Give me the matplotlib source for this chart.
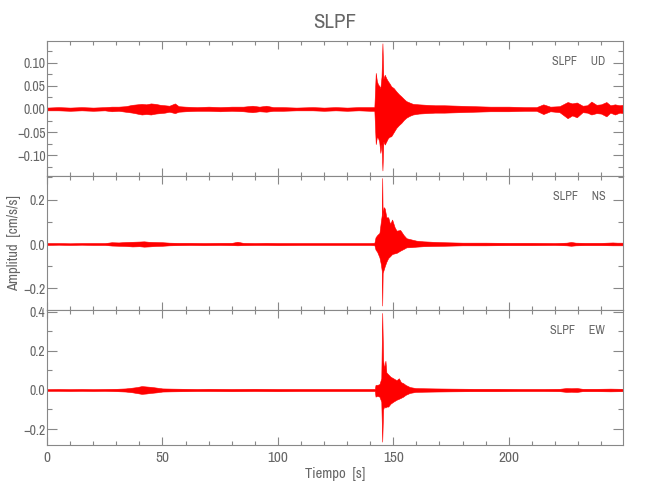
import matplotlib
matplotlib.use("Agg")
import matplotlib.pyplot as plt
from matplotlib import font_manager
from matplotlib.ticker import MultipleLocator

# envelope of each trace: time [s], upper and lower amplitude [cm/s/s]
t_ud = [0, 5, 10, 15, 20, 25, 28, 31, 34, 37, 39, 41, 43, 45, 47, 49, 51, 53, 55.4, 57, 60, 65, 70, 75,
        80, 85, 89, 92, 95, 98, 102, 108, 115, 120, 125, 130, 135, 140, 141.8, 142.4, 142.9, 143.4,
        143.9, 144.4, 144.9, 145.3, 145.7, 146.3, 147.0, 147.7, 148.4, 149.1, 150.2, 151.3, 152.4,
        153.5, 154.5, 155.6, 157, 158.5, 161, 164.3, 168, 172, 178.7, 185, 192, 200, 207, 212, 215,
        218, 222, 225.5, 227.5, 229.5, 232, 234, 235.8, 238, 240, 242.3, 244, 246, 248, 249.5]
hi_ud = [0.003, 0.004, 0.003, 0.004, 0.003, 0.004, 0.005, 0.005, 0.006, 0.009, 0.010, 0.011, 0.010,
         0.012, 0.011, 0.009, 0.008, 0.007, 0.012, 0.006, 0.005, 0.004, 0.005, 0.004, 0.005, 0.005,
         0.007, 0.005, 0.007, 0.004, 0.004, 0.003, 0.004, 0.003, 0.004, 0.003, 0.004, 0.004, 0.004,
         0.078, 0.060, 0.053, 0.050, 0.045, 0.070, 0.142, 0.065, 0.074, 0.066, 0.060, 0.055, 0.049,
         0.045, 0.038, 0.032, 0.027, 0.022, 0.017, 0.014, 0.011, 0.010, 0.009, 0.008, 0.008, 0.007,
         0.006, 0.005, 0.005, 0.004, 0.004, 0.010, 0.005, 0.006, 0.015, 0.012, 0.014, 0.007, 0.008,
         0.016, 0.009, 0.010, 0.015, 0.008, 0.010, 0.008, 0.009]
lo_ud = [-0.003, -0.003, -0.004, -0.003, -0.004, -0.003, -0.005, -0.004, -0.006, -0.008, -0.010,
         -0.012, -0.011, -0.012, -0.010, -0.009, -0.008, -0.006, -0.009, -0.006, -0.005, -0.004,
         -0.004, -0.005, -0.004, -0.005, -0.007, -0.005, -0.006, -0.004, -0.004, -0.003, -0.003,
         -0.004, -0.003, -0.004, -0.003, -0.004, -0.004, -0.076, -0.060, -0.063, -0.070, -0.095,
         -0.075, -0.133, -0.070, -0.077, -0.070, -0.063, -0.060, -0.059, -0.050, -0.041, -0.035,
         -0.030, -0.024, -0.019, -0.015, -0.012, -0.010, -0.009, -0.008, -0.008, -0.007, -0.006,
         -0.005, -0.005, -0.004, -0.004, -0.011, -0.005, -0.007, -0.020, -0.014, -0.018, -0.007,
         -0.008, -0.012, -0.009, -0.010, -0.016, -0.008, -0.012, -0.008, -0.009]

t_ns = [0, 5, 10, 15, 20, 25, 28, 31, 34, 37, 40, 42, 44, 47, 50, 53, 57, 62, 68, 75, 80, 82.5, 85,
        90, 95, 100, 110, 120, 130, 135, 140, 141.8, 142.3, 143.0, 144.0, 144.6, 145.0, 145.2, 145.4,
        145.8, 146.3, 147.0, 147.8, 148.6, 149.5, 150.6, 151.4, 153.0, 154.5, 155.7, 158, 160, 163,
        167, 172, 180, 190, 200, 210, 220, 225, 227, 229, 233, 240, 245, 247, 249.5]
hi_ns = [0.004, 0.004, 0.003, 0.004, 0.004, 0.004, 0.008, 0.007, 0.009, 0.010, 0.011, 0.012, 0.010,
         0.009, 0.008, 0.006, 0.005, 0.005, 0.004, 0.005, 0.005, 0.010, 0.005, 0.004, 0.005, 0.004,
         0.004, 0.004, 0.004, 0.004, 0.004, 0.005, 0.030, 0.040, 0.050, 0.100, 0.130, 0.297, 0.120,
         0.166, 0.160, 0.120, 0.120, 0.090, 0.110, 0.075, 0.060, 0.063, 0.040, 0.026, 0.020, 0.015,
         0.012, 0.010, 0.008, 0.006, 0.006, 0.005, 0.005, 0.004, 0.006, 0.009, 0.006, 0.005, 0.005,
         0.007, 0.006, 0.006]
lo_ns = [-0.004, -0.003, -0.004, -0.003, -0.004, -0.004, -0.007, -0.008, -0.009, -0.011, -0.010,
         -0.012, -0.011, -0.009, -0.008, -0.006, -0.005, -0.004, -0.005, -0.004, -0.005, -0.006,
         -0.005, -0.004, -0.004, -0.005, -0.004, -0.004, -0.004, -0.004, -0.004, -0.005, -0.025,
         -0.035, -0.060, -0.090, -0.120, -0.277, -0.130, -0.117, -0.100, -0.080, -0.063, -0.055,
         -0.045, -0.042, -0.040, -0.030, -0.022, -0.015, -0.014, -0.012, -0.010, -0.009, -0.008,
         -0.006, -0.006, -0.005, -0.005, -0.004, -0.006, -0.008, -0.006, -0.005, -0.005, -0.006,
         -0.006, -0.006]

t_ew = [0, 5, 10, 15, 20, 25, 30, 34, 37, 39, 41, 43, 45, 47.6, 50, 54, 60, 65, 70, 80, 90, 100,
        110, 120, 130, 140, 142.0, 142.3, 143.0, 144.0, 144.8, 145.2, 145.6, 146.0, 146.6, 147.0,
        147.8, 148.8, 150.0, 151.4, 152.4, 153.3, 154.3, 155.3, 157.2, 159.6, 163, 168, 175, 185,
        195, 205, 215, 222, 225, 227, 229.5, 232, 238, 244, 249.5]
hi_ew = [0.004, 0.005, 0.004, 0.005, 0.004, 0.005, 0.006, 0.008, 0.012, 0.015, 0.020, 0.018, 0.016,
         0.012, 0.008, 0.007, 0.006, 0.005, 0.006, 0.005, 0.006, 0.005, 0.005, 0.005, 0.005, 0.005,
         0.005, 0.026, 0.026, 0.030, 0.060, 0.395, 0.154, 0.110, 0.150, 0.090, 0.080, 0.068, 0.060,
         0.050, 0.060, 0.040, 0.035, 0.026, 0.015, 0.010, 0.009, 0.008, 0.007, 0.006, 0.006, 0.005,
         0.005, 0.006, 0.010, 0.009, 0.010, 0.006, 0.006, 0.007, 0.006]
lo_ew = [-0.004, -0.004, -0.005, -0.004, -0.005, -0.004, -0.006, -0.008, -0.012, -0.016, -0.020,
         -0.018, -0.015, -0.012, -0.008, -0.007, -0.006, -0.005, -0.005, -0.006, -0.005, -0.006,
         -0.005, -0.005, -0.005, -0.005, -0.005, -0.034, -0.030, -0.034, -0.060, -0.265, -0.100,
         -0.085, -0.090, -0.085, -0.085, -0.070, -0.060, -0.050, -0.045, -0.040, -0.034, -0.025,
         -0.015, -0.010, -0.009, -0.008, -0.007, -0.006, -0.006, -0.005, -0.005, -0.006, -0.010,
         -0.009, -0.010, -0.006, -0.006, -0.007, -0.006]

station = "SLPF"
components = ["UD", "NS", "EW"]
ylims = [(-0.145, 0.147), (-0.297, 0.306), (-0.282, 0.41)]
ymajor = [0.05, 0.2, 0.2]
yminor = [0.025, 0.1, 0.1]
traces = [(t_ud, hi_ud, lo_ud), (t_ns, hi_ns, lo_ns), (t_ew, hi_ew, lo_ew)]

# the original uses a thin narrow vector font; take the narrowest installed one
fonts = font_manager.fontManager.ttflist
narrow = [f for f in fonts if "Narrow" in f.name or "Condensed" in f.name]
dv_cond = [f for f in fonts if f.name == "DejaVu Sans" and "condensed" in str(f.stretch)]
if narrow:
    plt.rcParams["font.family"] = [narrow[0].name, "DejaVu Sans"]
elif dv_cond:
    plt.rcParams["font.family"] = ["DejaVu Sans"]
    plt.rcParams["font.stretch"] = dv_cond[0].stretch
else:
    plt.rcParams["font.family"] = ["Liberation Sans", "DejaVu Sans"]

grey = "#666666"
W, H = 650, 500
fig = plt.figure(figsize=(6.5, 5.0), dpi=100)

# panel edges in pixels (top, bottom)
edges = [(41, 176), (176, 310), (310, 445)]
left, right = 47, 623
axes = []
for i, (top, bot) in enumerate(edges):
    ax = fig.add_axes([left / W, (H - bot) / H, (right - left) / W, (bot - top) / H])
    t, hi, lo = traces[i]
    ax.fill_between(t, lo, hi, color="red", lw=0.4, edgecolor="red")
    ax.plot([0, 249.5], [0, 0], color="red", lw=1.0)
    ax.set_xlim(0, 249.5)
    ax.set_ylim(*ylims[i])
    ax.xaxis.set_major_locator(MultipleLocator(50))
    ax.xaxis.set_minor_locator(MultipleLocator(10))
    ax.yaxis.set_major_locator(MultipleLocator(ymajor[i]))
    ax.yaxis.set_minor_locator(MultipleLocator(yminor[i]))
    ax.tick_params(which="both", direction="in", top=True, right=True, colors="#888888",
                   labelcolor=grey, width=0.8)
    ax.tick_params(axis="y", which="major", length=7, pad=1, labelsize=10)
    ax.tick_params(axis="y", which="minor", length=3.5)
    ax.tick_params(axis="x", which="major", length=6, pad=4, labelsize=11)
    ax.tick_params(axis="x", which="minor", length=3)
    for s in ax.spines.values():
        s.set_color("#888888")
        s.set_linewidth(0.8)
    if i < 2:
        ax.tick_params(axis="x", labelbottom=False)
    ax.text(0.969, 0.85, station + "     " + components[i], transform=ax.transAxes,
            ha="right", va="center", fontsize=8.8, color=grey)
    axes.append(ax)

axes[-1].set_xlabel("Tiempo  [s]", fontsize=10.5, color=grey, labelpad=2)
fig.text(335 / W, 1 - 22 / H, station, ha="center", va="center", fontsize=15, color=grey)
fig.text(14 / W, 1 - 243 / H, "Amplitud  [cm/s/s]", rotation=90, ha="center", va="center",
         fontsize=10.5, color=grey)

fig.savefig("out.png", dpi=100)
